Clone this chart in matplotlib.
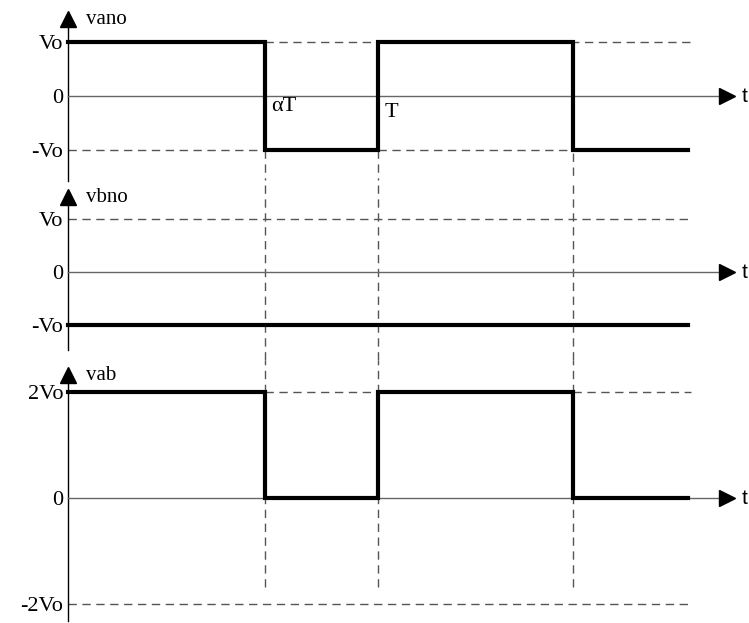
import matplotlib.pyplot as plt
import numpy as np

plt.rcParams['font.family'] = ['Liberation Serif', 'DejaVu Serif']

# switching instants (units of T) and end of drawn waveform
t_sw = [0.635, 1.0, 1.63]
t_end = 2.0

# waveform levels per interval (units of Vo)
vano = [1, -1, 1, -1]
vbno = [-1, -1, -1, -1]
vab = [2, 0, 2, 0]

ticks_1 = [1, 0, -1]
labels_1 = ['Vo', '0', '-Vo']
ticks_3 = [2, 0, -2]
labels_3 = ['2Vo', '0', '-2Vo']

W, H = 749, 623
fig = plt.figure(figsize=(W / 100, H / 100), dpi=100)

# pixel layout helpers
x0_px, px_t = 68, 310
xlim = (-x0_px / px_t, (W - x0_px) / px_t)


def make_panel(top, bot, zero, scale):
    ax = fig.add_axes([0, 1 - bot / H, 1, (bot - top) / H])
    ax.set_xlim(*xlim)
    ax.set_ylim(-(bot - zero) / scale, (zero - top) / scale)
    ax.axis('off')
    return ax


panels = [
    # (top px, bottom px, zero px, px per Vo)
    make_panel(0, 180, 96, 54),
    make_panel(180, 360, 272, 53),
    make_panel(360, 623, 498, 53),
]

t_steps = [0] + t_sw + [t_end]
dash = dict(color='#555555', lw=1, ls=(0, (6, 4)), clip_on=False)
fs = 16


def draw_axes(ax, name, ticks, labels, y_arrow, y_axbot, ylab):
    # vertical axis with arrowhead
    ax.plot([0, 0], [y_arrow, y_axbot], color='black', lw=1, clip_on=False)
    ax.plot([0], [y_arrow], marker='^', ms=11, color='black', clip_on=False)
    ax.text(0.058, ylab, name, fontsize=15, va='center', ha='left')
    # time axis
    ax.plot([0, 2.1], [0, 0], color='#666666', lw=1)
    ax.plot([2.127], [0], marker='>', ms=11, color='black', clip_on=False)
    ax.text(2.172, 0, 't', fontsize=15, va='center', ha='left',
            family=['Liberation Sans', 'DejaVu Sans'])
    for v, lab in zip(ticks, labels):
        ax.text(-0.015, v - 0.04, lab, fontsize=fs, va='center', ha='right')


def draw_wave(ax, levels):
    ax.plot(t_steps, levels + [levels[-1]], drawstyle='steps-post',
            color='black', lw=3, solid_joinstyle='miter', zorder=5)


# panel 1: vano
ax = panels[0]
ylo, yhi = ax.get_ylim()
ax.plot([t_sw[0], t_end + 0.01], [1, 1], **dash)
ax.plot([0, t_sw[0]], [-1, -1], **dash)
ax.plot([t_sw[1], t_sw[2]], [-1, -1], **dash)
ax.plot([t_sw[0], t_sw[0]], [-1, ylo], **dash)
ax.plot([t_sw[1], t_sw[1]], [-1, ylo], **dash)
ax.plot([t_sw[2], t_sw[2]], [1, ylo], **dash)
draw_wave(ax, vano)
draw_axes(ax, 'vano', ticks_1, labels_1, 1.43, ylo - 0.02, 1.41)
ax.text(t_sw[0] + 0.02, -0.2, 'αT', fontsize=fs, va='center', ha='left')
ax.text(t_sw[1] + 0.02, -0.3, 'T', fontsize=fs, va='center', ha='left')

# panel 2: vbno
ax = panels[1]
ylo, yhi = ax.get_ylim()
ax.plot([0, t_end + 0.01], [1, 1], **dash)
for ts in t_sw:
    ax.plot([ts, ts], [ylo, yhi], **dash)
draw_wave(ax, vbno)
draw_axes(ax, 'vbno', ticks_1, labels_1, 1.415, -1.47, 1.40)

# panel 3: vab
ax = panels[2]
ylo, yhi = ax.get_ylim()
ax.plot([t_sw[0], t_sw[1]], [2, 2], **dash)
ax.plot([t_sw[2], t_end + 0.01], [2, 2], **dash)
ax.plot([0, t_end + 0.01], [-2, -2], **dash)
for ts in t_sw:
    ax.plot([ts, ts], [-1.68, yhi], **dash)
draw_wave(ax, vab)
draw_axes(ax, 'vab', ticks_3, labels_3, 2.32, -2.32, 2.32)

fig.savefig('out.png', dpi=100)
